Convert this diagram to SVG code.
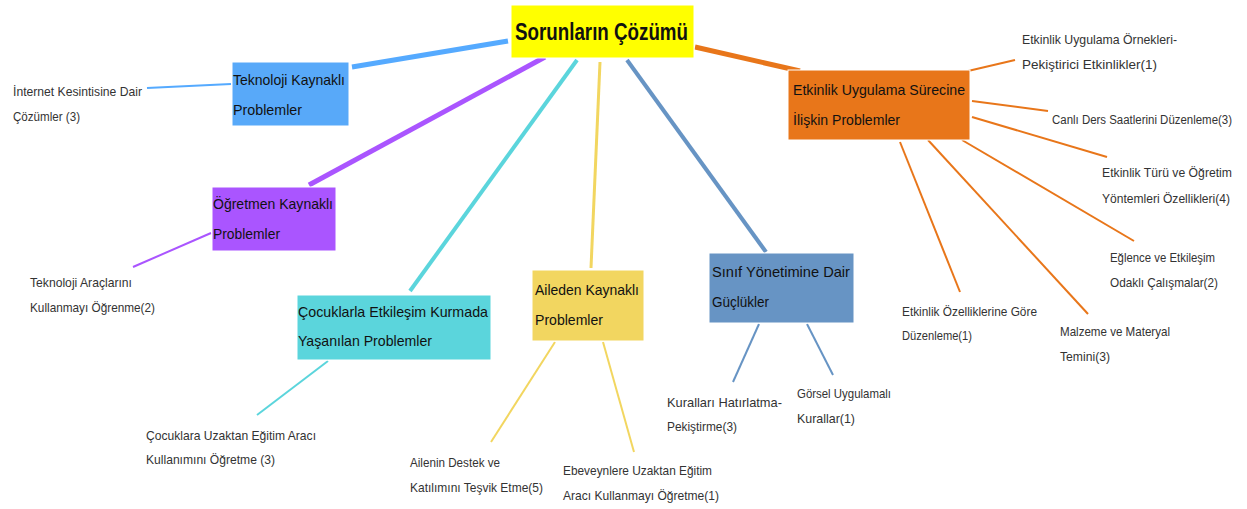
<svg xmlns="http://www.w3.org/2000/svg" width="1247" height="509" viewBox="0 0 1247 509">
<style>
.node text{font-family:"Liberation Sans",Arial,sans-serif;font-size:15px;fill:#111}
.leaf{font-family:"Liberation Sans",Arial,sans-serif;font-size:13px;fill:#333}
.main{fill:none;stroke-linecap:butt}
.box{stroke:#ffffff;stroke-width:1}
</style>
<rect width="1247" height="509" fill="#ffffff"/>
<g id="connectors">
<line class="main" x1="508" y1="41" x2="352" y2="67" stroke="#55aaff" stroke-width="5"/>
<line class="main" x1="545" y1="57" x2="309" y2="185" stroke="#aa55ff" stroke-width="5"/>
<line class="main" x1="577" y1="60" x2="410" y2="291" stroke="#5bd5dc" stroke-width="4"/>
<line class="main" x1="600" y1="62" x2="591" y2="268" stroke="#f2d660" stroke-width="3"/>
<line class="main" x1="627" y1="60" x2="766" y2="252" stroke="#6794c4" stroke-width="4"/>
<line class="main" x1="695" y1="47" x2="800" y2="71" stroke="#e8761a" stroke-width="5"/>
<g stroke-width="2" fill="none">
<line x1="231" y1="84" x2="147" y2="88" stroke="#55aaff"/>
<line x1="211" y1="233" x2="133" y2="267" stroke="#aa55ff"/>
<line x1="328" y1="361" x2="257" y2="415" stroke="#5bd5dc"/>
<line x1="555" y1="342" x2="491" y2="442" stroke="#f2d660"/>
<line x1="603" y1="342" x2="634" y2="452" stroke="#f2d660"/>
<line x1="759" y1="324" x2="733" y2="382" stroke="#6794c4"/>
<line x1="807" y1="324" x2="833" y2="375" stroke="#6794c4"/>
<line x1="968" y1="71" x2="1015" y2="60" stroke="#e8761a"/>
<line x1="972" y1="101" x2="1048" y2="111" stroke="#e8761a"/>
<line x1="972" y1="117" x2="1107" y2="157" stroke="#e8761a"/>
<line x1="962" y1="140" x2="1134" y2="241" stroke="#e8761a"/>
<line x1="928" y1="140" x2="1088" y2="314" stroke="#e8761a"/>
<line x1="900" y1="142" x2="960" y2="292" stroke="#e8761a"/>
</g>
</g>
<g id="root" class="node">
<rect class="box" x="511" y="5" width="183" height="53" fill="#ffff00"/>
<text x="515" y="40" style="font-size:24px;font-weight:bold" textLength="173" lengthAdjust="spacingAndGlyphs">Sorunların Çözümü</text>
</g>
<g id="teknoloji" class="node">
<rect class="box" x="232" y="62" width="117" height="64" fill="#58a9f9"/>
<text x="233" y="85" textLength="112" lengthAdjust="spacingAndGlyphs">Teknoloji Kaynaklı</text>
<text x="233" y="115" textLength="69" lengthAdjust="spacingAndGlyphs">Problemler</text>
</g>
<g id="ogretmen" class="node">
<rect class="box" x="212" y="187" width="124" height="64" fill="#aa55ff"/>
<text x="213" y="209" textLength="120" lengthAdjust="spacingAndGlyphs">Öğretmen Kaynaklı</text>
<text x="213" y="239" textLength="67" lengthAdjust="spacingAndGlyphs">Problemler</text>
</g>
<g id="cocuklarla" class="node">
<rect class="box" x="297" y="295" width="194" height="65" fill="#5bd5dc"/>
<text x="298" y="317" textLength="190" lengthAdjust="spacingAndGlyphs">Çocuklarla Etkileşim Kurmada</text>
<text x="298" y="346" textLength="134" lengthAdjust="spacingAndGlyphs">Yaşanılan Problemler</text>
</g>
<g id="aileden" class="node">
<rect class="box" x="532" y="270" width="112" height="71" fill="#f2d660"/>
<text x="535" y="295" textLength="104" lengthAdjust="spacingAndGlyphs">Aileden Kaynaklı</text>
<text x="535" y="325" textLength="68" lengthAdjust="spacingAndGlyphs">Problemler</text>
</g>
<g id="sinif" class="node">
<rect class="box" x="709" y="253" width="145" height="70" fill="#6794c4"/>
<text x="712" y="277" textLength="138" lengthAdjust="spacingAndGlyphs">Sınıf Yönetimine Dair</text>
<text x="712" y="307" textLength="57" lengthAdjust="spacingAndGlyphs">Güçlükler</text>
</g>
<g id="etkinlik" class="node">
<rect class="box" x="788" y="70" width="182" height="70" fill="#e8761a"/>
<text x="793" y="95" textLength="172" lengthAdjust="spacingAndGlyphs">Etkinlik Uygulama Sürecine</text>
<text x="793" y="125" textLength="107" lengthAdjust="spacingAndGlyphs">İlişkin Problemler</text>
</g>
<g id="leaf-internet"><text class="leaf" x="13" y="96" textLength="129" lengthAdjust="spacingAndGlyphs">İnternet Kesintisine Dair</text><text class="leaf" x="13" y="121" textLength="67" lengthAdjust="spacingAndGlyphs">Çözümler (3)</text></g>
<g id="leaf-araclar"><text class="leaf" x="30" y="287" textLength="102" lengthAdjust="spacingAndGlyphs">Teknoloji Araçlarını</text><text class="leaf" x="30" y="312" textLength="125" lengthAdjust="spacingAndGlyphs">Kullanmayı Öğrenme(2)</text></g>
<g id="leaf-cocuklara"><text class="leaf" x="146" y="440" textLength="170" lengthAdjust="spacingAndGlyphs">Çocuklara Uzaktan Eğitim Aracı</text><text class="leaf" x="146" y="464" textLength="129" lengthAdjust="spacingAndGlyphs">Kullanımını Öğretme (3)</text></g>
<g id="leaf-ailenin"><text class="leaf" x="410" y="467" textLength="90" lengthAdjust="spacingAndGlyphs">Ailenin Destek ve</text><text class="leaf" x="410" y="492" textLength="133" lengthAdjust="spacingAndGlyphs">Katılımını Teşvik Etme(5)</text></g>
<g id="leaf-ebeveyn"><text class="leaf" x="563" y="475" textLength="149" lengthAdjust="spacingAndGlyphs">Ebeveynlere Uzaktan Eğitim</text><text class="leaf" x="563" y="500" textLength="156" lengthAdjust="spacingAndGlyphs">Aracı Kullanmayı Öğretme(1)</text></g>
<g id="leaf-kurallari"><text class="leaf" x="667" y="407" textLength="115" lengthAdjust="spacingAndGlyphs">Kuralları Hatırlatma-</text><text class="leaf" x="667" y="431" textLength="70" lengthAdjust="spacingAndGlyphs">Pekiştirme(3)</text></g>
<g id="leaf-gorsel"><text class="leaf" x="797" y="398" textLength="94" lengthAdjust="spacingAndGlyphs">Görsel Uygulamalı</text><text class="leaf" x="797" y="423" textLength="58" lengthAdjust="spacingAndGlyphs">Kurallar(1)</text></g>
<g id="leaf-ozellik"><text class="leaf" x="902" y="316" textLength="135" lengthAdjust="spacingAndGlyphs">Etkinlik Özelliklerine Göre</text><text class="leaf" x="902" y="340" textLength="70" lengthAdjust="spacingAndGlyphs">Düzenleme(1)</text></g>
<g id="leaf-malzeme"><text class="leaf" x="1060" y="336" textLength="110" lengthAdjust="spacingAndGlyphs">Malzeme ve Materyal</text><text class="leaf" x="1060" y="361" textLength="50" lengthAdjust="spacingAndGlyphs">Temini(3)</text></g>
<g id="leaf-eglence"><text class="leaf" x="1110" y="262" textLength="105" lengthAdjust="spacingAndGlyphs">Eğlence ve Etkileşim</text><text class="leaf" x="1110" y="287" textLength="108" lengthAdjust="spacingAndGlyphs">Odaklı Çalışmalar(2)</text></g>
<g id="leaf-turu"><text class="leaf" x="1102" y="177" textLength="130" lengthAdjust="spacingAndGlyphs">Etkinlik Türü ve Öğretim</text><text class="leaf" x="1102" y="203" textLength="128" lengthAdjust="spacingAndGlyphs">Yöntemleri Özellikleri(4)</text></g>
<g id="leaf-canli"><text class="leaf" x="1052" y="124" style="font-size:12px" textLength="180" lengthAdjust="spacingAndGlyphs">Canlı Ders Saatlerini Düzenleme(3)</text></g>
<g id="leaf-ornekler"><text class="leaf" x="1022" y="44" textLength="155" lengthAdjust="spacingAndGlyphs">Etkinlik Uygulama Örnekleri-</text><text class="leaf" x="1022" y="69" textLength="135" lengthAdjust="spacingAndGlyphs">Pekiştirici Etkinlikler(1)</text></g>
</svg>
